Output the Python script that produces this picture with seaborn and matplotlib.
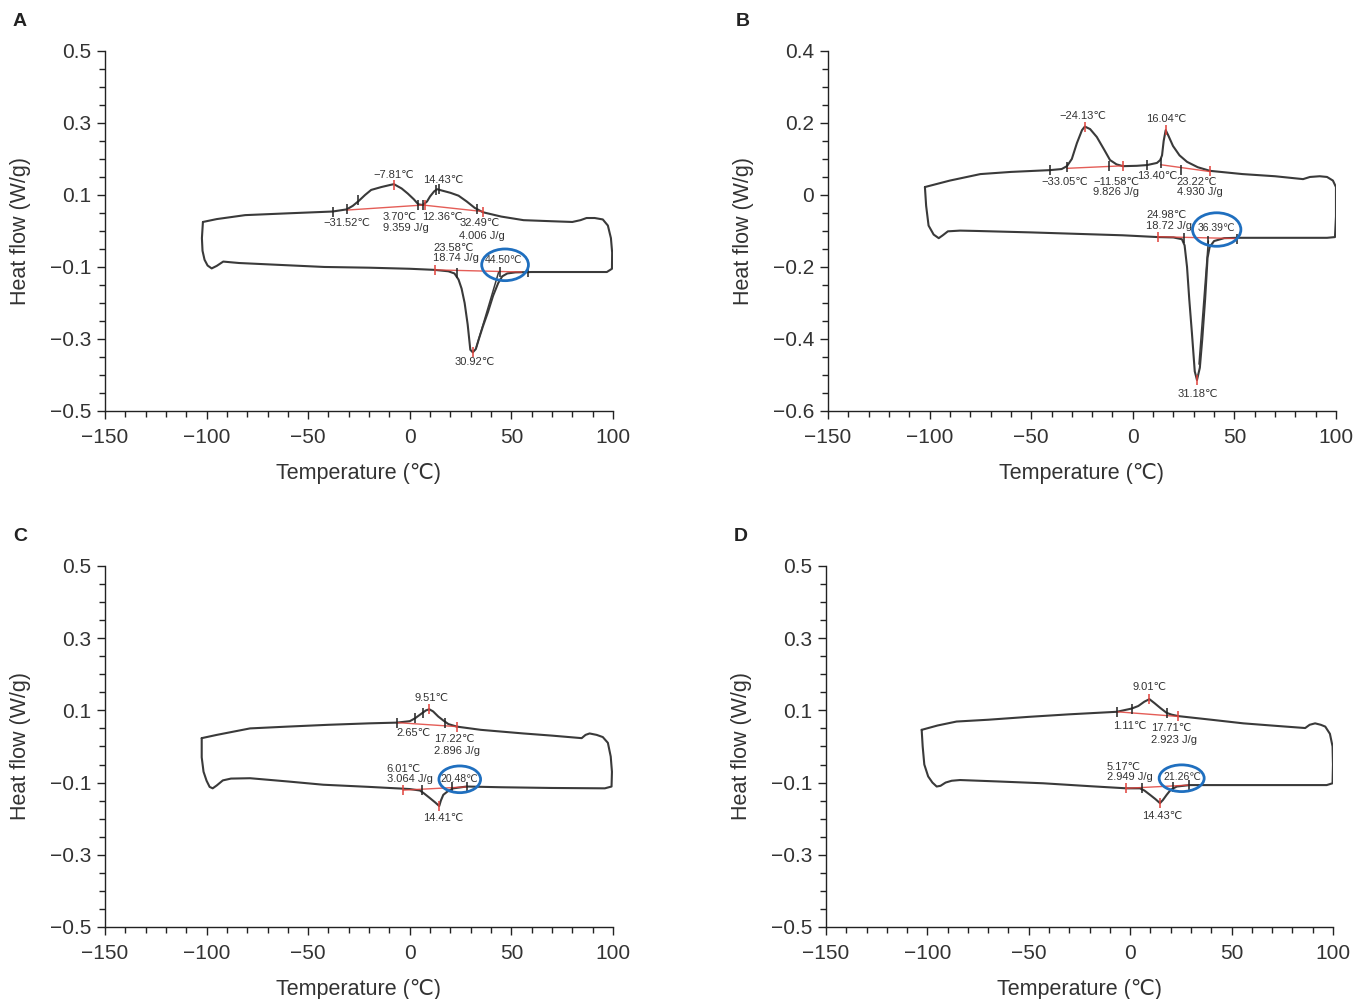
import numpy as np
import matplotlib
matplotlib.use("Agg")
import matplotlib.pyplot as plt
import seaborn as sns
from matplotlib.patches import Ellipse
from matplotlib.ticker import MultipleLocator

# ---- DSC loop curves (temperature in degC, heat flow in W/g) ----
# each loop: upper (cooling) trace left->right, right edge, lower (heating) trace right->left
a_temp = [-101.8, -95, -81, -60, -38, -31, -28, -25, -22, -19, -14, -9.5, -7.8, -4, -1, 2, 4.2, 6.5,
          8.5, 10, 12, 13.5, 16, 20, 24, 28, 32, 36, 45, 56, 70, 80, 84, 87, 91, 95, 97.5, 99, 99.6,
          99.5, 97, 80, 60, 52, 48, 45.5, 43.5, 41, 38.5, 36, 34, 32.5, 31, 29.8, 28.5, 27, 25.5, 24,
          22, 19, 12, 0, -20, -42, -65, -84, -88, -91.8, -95, -97.5, -99.5, -101, -102, -102.3, -101.8]
a_flow = [0.025, 0.033, 0.044, 0.049, 0.054, 0.060, 0.070, 0.084, 0.100, 0.114, 0.122, 0.128, 0.130,
          0.118, 0.104, 0.088, 0.074, 0.072, 0.082, 0.096, 0.110, 0.116, 0.112, 0.106, 0.098, 0.082,
          0.064, 0.052, 0.040, 0.030, 0.027, 0.025, 0.030, 0.036, 0.036, 0.032, 0.015, -0.020, -0.060,
          -0.105, -0.114, -0.114, -0.114, -0.115, -0.118, -0.126, -0.145, -0.180, -0.225, -0.265, -0.300,
          -0.328, -0.337, -0.330, -0.260, -0.200, -0.160, -0.135, -0.118, -0.112, -0.108, -0.105, -0.102,
          -0.100, -0.094, -0.089, -0.087, -0.085, -0.097, -0.104, -0.096, -0.080, -0.055, -0.020, 0.025]

b_temp = [-102.3, -90, -75, -60, -40.7, -35, -32.4, -30, -27.5, -25, -23.6, -21, -17.7, -14, -11.2, -8,
          -4.8, 2, 7, 11.9, 13.5, 14.4, 15.2, 16.2, 17.5, 19.8, 23, 26.7, 32, 38, 54, 70, 83.8, 87.2,
          92, 95.6, 98.5, 100, 100, 99.5, 95.6, 70, 51.3, 45, 40, 37.8, 36.8, 35.6, 34.2, 33, 31.6,
          30.5, 29.1, 27.8, 26.7, 25.5, 24.2, 20, 12.4, -5, -27.5, -50, -76.7, -85, -91, -93.5, -95.5,
          -98, -100.5, -101.7, -102.3]
b_flow = [0.022, 0.040, 0.058, 0.064, 0.069, 0.072, 0.080, 0.100, 0.144, 0.180, 0.190, 0.183, 0.161,
          0.125, 0.097, 0.085, 0.080, 0.081, 0.083, 0.089, 0.097, 0.110, 0.150, 0.180, 0.165, 0.136,
          0.110, 0.092, 0.077, 0.067, 0.058, 0.052, 0.044, 0.050, 0.052, 0.050, 0.040, 0.022, -0.060,
          -0.117, -0.119, -0.119, -0.119, -0.120, -0.128, -0.145, -0.175, -0.290, -0.400, -0.480, -0.514,
          -0.490, -0.383, -0.290, -0.200, -0.140, -0.123, -0.118, -0.117, -0.112, -0.108, -0.104, -0.100,
          -0.099, -0.101, -0.112, -0.120, -0.110, -0.085, -0.030, 0.022]

c_temp = [-102.4, -95, -78.6, -60, -40, -20, -6.4, 0, 2.6, 6, 8, 9.6, 11.5, 14, 16.5, 19, 23.1, 35,
          55.9, 70, 84.6, 86.5, 88.5, 92, 95, 97.5, 98.9, 99.5, 99.3, 96, 70, 45, 28, 21.4, 18.5, 16.5,
          15.3, 14.5, 12.5, 9.9, 7, 5, 0, -3.2, -20, -42.6, -60, -78.6, -88, -92, -95, -97, -98.5,
          -100, -101.5, -102.4, -102.4]
c_flow = [0.023, 0.032, 0.050, 0.055, 0.060, 0.064, 0.066, 0.070, 0.078, 0.092, 0.100, 0.103, 0.097,
          0.083, 0.072, 0.062, 0.055, 0.046, 0.036, 0.030, 0.023, 0.032, 0.036, 0.032, 0.026, 0.010,
          -0.028, -0.070, -0.111, -0.116, -0.115, -0.113, -0.111, -0.116, -0.125, -0.134, -0.150,
          -0.165, -0.155, -0.143, -0.130, -0.122, -0.118, -0.117, -0.112, -0.106, -0.097, -0.088,
          -0.089, -0.094, -0.108, -0.116, -0.112, -0.095, -0.070, -0.030, 0.023]

d_temp = [-102.8, -95, -85.6, -70, -50, -30, -6.6, 0.8, 4, 7, 9.5, 12, 15, 18, 20.5, 23.8, 40, 55.8,
          72, 86.3, 88.5, 91.2, 94, 96.2, 98.5, 99.8, 100, 99.8, 96.9, 60, 29.5, 23, 20, 18, 16.2, 14.7,
          12.5, 9.8, 7, 4.8, -1.8, -20, -42.9, -65, -83.9, -88, -91, -93.5, -95.4, -97.5, -99.6,
          -101.5, -102.3, -102.8]
d_flow = [0.046, 0.058, 0.069, 0.074, 0.082, 0.089, 0.096, 0.105, 0.112, 0.124, 0.131, 0.120, 0.106,
          0.093, 0.088, 0.084, 0.074, 0.064, 0.057, 0.051, 0.060, 0.064, 0.060, 0.055, 0.035, 0.000,
          -0.050, -0.102, -0.107, -0.107, -0.107, -0.111, -0.120, -0.134, -0.148, -0.157, -0.146,
          -0.134, -0.122, -0.116, -0.116, -0.110, -0.102, -0.097, -0.093, -0.095, -0.100, -0.109,
          -0.111, -0.100, -0.083, -0.050, 0.000, 0.046]

# extra integration lines inside the melting peaks
a_extra_temp = [32.8, 43.8]
a_extra_flow = [-0.322, -0.113]
b_extra_temp = [32.6, 37.2]
b_extra_flow = [-0.470, -0.128]

# red baselines (end points per segment)
a_base = [[(-31.1, 0.058), (6.5, 0.072), (35.9, 0.054)], [(12.4, -0.108), (55.0, -0.114)]]
b_base = [[(-32.4, 0.074), (-4.7, 0.081)], [(13.7, 0.084), (38.0, 0.065)], [(12.5, -0.116), (51.0, -0.121)]]
c_base = [[(-6.2, 0.066), (23.1, 0.055)], [(-3.2, -0.121), (28.0, -0.112)]]
d_base = [[(-6.4, 0.096), (23.8, 0.083)], [(-2.1, -0.116), (29.2, -0.107)]]

# marker ticks on the curves: (T, q)
a_black = [(-37.6, 0.054), (-31.1, 0.060), (-25.3, 0.085), (4.2, 0.073), (6.3, 0.072), (13.0, 0.115),
           (14.2, 0.116), (32.9, 0.060), (23.1, -0.118), (44.4, -0.113), (58.3, -0.114)]
a_red = [(-7.8, 0.129), (7.4, 0.072), (35.9, 0.054), (12.4, -0.108), (31.1, -0.337)]
b_black = [(-40.7, 0.069), (-32.4, 0.078), (-11.6, 0.080), (7.1, 0.083), (13.7, 0.089), (23.6, 0.070),
           (25.2, -0.120), (37.2, -0.128), (51.1, -0.121)]
b_red = [(-23.6, 0.190), (-4.7, 0.081), (16.2, 0.180), (38.0, 0.066), (12.5, -0.116), (31.6, -0.514)]
c_black = [(-6.2, 0.066), (2.6, 0.078), (6.7, 0.093), (17.3, 0.065), (5.8, -0.120), (20.6, -0.113),
           (28.0, -0.111)]
c_red = [(9.6, 0.103), (23.1, 0.055), (-3.2, -0.121), (14.5, -0.165)]
d_black = [(-6.4, 0.096), (0.8, 0.105), (18.0, 0.092), (5.7, -0.116), (21.3, -0.111), (29.2, -0.107)]
d_red = [(9.5, 0.131), (23.8, 0.084), (-2.1, -0.116), (14.7, -0.157)]

# annotation texts: (text, T, q, horizontal alignment)
a_labels = [("\u22127.81\u2103", -8.1, 0.156, "center"), ("14.43\u2103", 16.5, 0.142, "center"),
            ("\u221231.52\u2103", -31.1, 0.021, "center"), ("3.70\u2103", -13.3, 0.040, "left"),
            ("9.359 J/g", -13.3, 0.008, "left"), ("12.36\u2103", 6.2, 0.040, "left"),
            ("32.49\u2103", 24.4, 0.021, "left"), ("4.006 J/g", 24.4, -0.013, "left"),
            ("23.58\u2103", 11.6, -0.048, "left"), ("18.74 J/g", 11.6, -0.076, "left"),
            ("30.92\u2103", 32.1, -0.363, "center")]
a_circled = ("44.50\u2103", 46.0, -0.082)
a_ellipse = (46.9, -0.094, 23.0, 0.088)

b_labels = [("\u221224.13\u2103", -24.4, 0.219, "center"), ("16.04\u2103", 16.7, 0.210, "center"),
            ("\u221233.05\u2103", -33.4, 0.037, "center"), ("\u221211.58\u2103", -19.4, 0.037, "left"),
            ("9.826 J/g", -19.4, 0.009, "left"), ("13.40\u2103", 1.9, 0.053, "left"),
            ("23.22\u2103", 21.6, 0.037, "left"), ("4.930 J/g", 21.6, 0.007, "left"),
            ("24.98\u2103", 6.5, -0.056, "left"), ("18.72 J/g", 6.5, -0.086, "left"),
            ("31.18\u2103", 32.2, -0.553, "center")]
b_circled = ("36.39\u2103", 41.0, -0.091)
b_ellipse = (41.3, -0.096, 23.8, 0.093)

c_labels = [("9.51\u2103", 10.8, 0.133, "center"), ("2.65\u2103", 1.7, 0.036, "center"),
            ("17.22\u2103", 11.9, 0.020, "left"), ("2.896 J/g", 11.9, -0.012, "left"),
            ("6.01\u2103", -11.4, -0.063, "left"), ("3.064 J/g", -11.4, -0.091, "left"),
            ("14.41\u2103", 16.5, -0.197, "center")]
c_circled = ("20.48\u2103", 24.4, -0.091)
c_ellipse = (24.6, -0.091, 20.5, 0.074)

d_labels = [("9.01\u2103", 9.4, 0.166, "center"), ("1.11\u2103", 0.0, 0.057, "center"),
            ("17.71\u2103", 10.2, 0.050, "left"), ("2.923 J/g", 10.2, 0.018, "left"),
            ("5.17\u2103", -11.6, -0.056, "left"), ("2.949 J/g", -11.6, -0.085, "left"),
            ("14.43\u2103", 15.8, -0.194, "center")]
d_circled = ("21.26\u2103", 25.9, -0.085)
d_ellipse = (25.4, -0.088, 22.2, 0.074)

a_yticks = [0.5, 0.3, 0.1, -0.1, -0.3, -0.5]
b_yticks = [0.4, 0.2, 0, -0.2, -0.4, -0.6]
x_ticks = [-150, -100, -50, 0, 50, 100]

sns.set_theme(style="ticks")
plt.rcParams["font.family"] = ["Liberation Sans", "DejaVu Sans"]
plt.rcParams["axes.unicode_minus"] = True

TXT = "#333333"
LINE = "#3a3a3a"
RED = "#e0413a"
BLUE = "#1f6fbf"

fig = plt.figure(figsize=(13.67, 9.99), dpi=100)

panels = [
    ("A", [0.0768, 0.5886, 0.3716, 0.3604], a_temp, a_flow, a_yticks, a_base, a_black, a_red,
     a_labels, a_circled, a_ellipse, (a_extra_temp, a_extra_flow)),
    ("B", [0.6057, 0.5886, 0.3716, 0.3604], b_temp, b_flow, b_yticks, b_base, b_black, b_red,
     b_labels, b_circled, b_ellipse, (b_extra_temp, b_extra_flow)),
    ("C", [0.0768, 0.0721, 0.3716, 0.3614], c_temp, c_flow, a_yticks, c_base, c_black, c_red,
     c_labels, c_circled, c_ellipse, None),
    ("D", [0.6042, 0.0721, 0.3709, 0.3614], d_temp, d_flow, a_yticks, d_base, d_black, d_red,
     d_labels, d_circled, d_ellipse, None),
]

for letter, rect, temp, flow, yticks, base, black, red, labels, circled, ell, extra in panels:
    ax = fig.add_axes(rect)
    sns.lineplot(x=temp, y=flow, sort=False, estimator=None, color=LINE, lw=1.5, ax=ax)
    if extra is not None:
        sns.lineplot(x=extra[0], y=extra[1], sort=False, estimator=None, color=LINE, lw=1.1, ax=ax)
    for seg in base:
        ax.plot([p[0] for p in seg], [p[1] for p in seg], color=RED, lw=1.0, alpha=0.85)
    ax.scatter([p[0] for p in black], [p[1] for p in black], marker="|", s=55, color="#222222",
               linewidths=1.1, zorder=4)
    ax.scatter([p[0] for p in red], [p[1] for p in red], marker="|", s=55, color=RED,
               linewidths=1.1, zorder=4)
    for txt, tx, ty, ha in labels:
        ax.text(tx, ty, txt, ha=ha, va="center", fontsize=8, color=TXT)
    ax.text(circled[1], circled[2], circled[0], ha="center", va="center", fontsize=7.5, color=TXT)
    ax.add_patch(Ellipse((ell[0], ell[1]), ell[2], ell[3], fill=False, edgecolor=BLUE, lw=2.0, zorder=5))

    ax.set_xlim(-150, 100)
    ax.set_ylim(yticks[-1], yticks[0])
    ax.set_xticks(x_ticks)
    ax.set_xticklabels([f"{v:g}".replace("-", "\u2212") for v in x_ticks])
    ax.set_yticks(yticks)
    ax.set_yticklabels([f"{v:g}".replace("-", "\u2212") for v in yticks])
    ax.xaxis.set_minor_locator(MultipleLocator(10))
    ax.yaxis.set_minor_locator(MultipleLocator(0.05))
    ax.tick_params(axis="both", which="major", direction="out", length=6, width=1.0,
                   labelsize=15, colors="#222222", labelcolor=TXT)
    ax.tick_params(axis="x", which="major", pad=6)
    ax.tick_params(axis="y", which="major", pad=4)
    ax.tick_params(axis="both", which="minor", direction="out", length=4, width=1.0, colors="#222222")
    sns.despine(ax=ax)
    for sp in ("left", "bottom"):
        ax.spines[sp].set_color("#222222")
        ax.spines[sp].set_linewidth(1.0)
    ax.set_xlabel("Temperature (\u2103)", fontsize=15.5, color=TXT)
    ax.set_ylabel("Heat flow (W/g)", fontsize=15.5, color=TXT)
    ax.xaxis.set_label_coords(0.5, -0.145)
    ax.yaxis.set_label_coords(-0.146, 0.5)
    ax.grid(False)

    fig.text(rect[0] - 0.0622, rect[1] + rect[3] + 0.029, letter, fontsize=14, fontweight="bold",
             color="#222222", ha="center", va="center")

fig.savefig("out.png", dpi=100, facecolor="white")
